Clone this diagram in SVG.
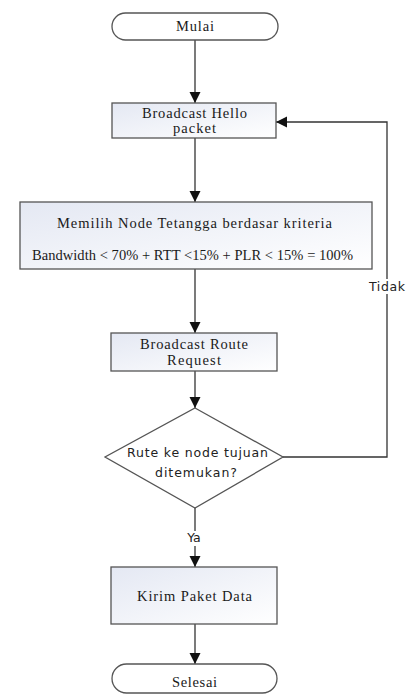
<svg xmlns="http://www.w3.org/2000/svg" width="408" height="699" viewBox="0 0 408 699">
<style>
.term{fill:#ffffff;stroke:#555;stroke-width:1.3}
.box{fill:url(#g);stroke:#555;stroke-width:1.3}
.dia{fill:#ffffff;stroke:#555;stroke-width:1.3}
.t{font-family:"Liberation Serif","Times New Roman",serif;font-size:14.5px;fill:#1a1a1a;text-anchor:middle}
.s{font-family:"DejaVu Sans",Verdana,sans-serif;font-size:12.5px;fill:#222;text-anchor:middle}
.c{fill:none;stroke:#333;stroke-width:1.3}
</style>
<defs>
<linearGradient id="g" x1="0" y1="0" x2="1" y2="1">
<stop offset="0" stop-color="#e4e8f3"/>
<stop offset="1" stop-color="#ffffff"/>
</linearGradient>
<marker id="a" markerUnits="userSpaceOnUse" markerWidth="12" markerHeight="12" viewBox="0 0 12 12" refX="11" refY="6" orient="auto">
<path d="M0,0.5 L11,6 L0,11.5 Z" fill="#111"/>
</marker>
</defs>
<rect width="408" height="699" fill="#ffffff"/>
<g id="connectors">
<path class="c" d="M195,40 V103" marker-end="url(#a)"/>
<path class="c" d="M195,138 V202" marker-end="url(#a)"/>
<path class="c" d="M195,269 V333" marker-end="url(#a)"/>
<path class="c" d="M195,371 V408" marker-end="url(#a)"/>
<path class="c" d="M283,457 H387 V122 H276" marker-end="url(#a)"/>
<path class="c" d="M195,508 V567" marker-end="url(#a)"/>
<path class="c" d="M195,624 V664" marker-end="url(#a)"/>
<rect x="368" y="279" width="38" height="15" fill="#ffffff"/>
<text class="s" x="387" y="291" textLength="36">Tidak</text>
<rect x="184" y="531" width="22" height="15" fill="#ffffff"/>
<text class="s" x="194" y="542">Ya</text>
</g>
<g id="mulai">
<rect class="term" x="112" y="13" width="166" height="27" rx="13.5"/>
<text class="t" x="195" y="31" textLength="38">Mulai</text>
</g>
<g id="hello">
<rect class="box" x="112" y="103" width="164" height="35"/>
<text class="t" x="194.5" y="117.5" textLength="105">Broadcast Hello</text>
<text class="t" x="194.5" y="132.5" textLength="43">packet</text>
</g>
<g id="memilih">
<rect class="box" x="20" y="202" width="352" height="67"/>
<text class="t" x="194.5" y="227.5" textLength="275">Memilih Node Tetangga berdasar kriteria</text>
<text class="t" x="192.5" y="259.5" textLength="321">Bandwidth &lt; 70% + RTT &lt;15% + PLR &lt; 15% = 100%</text>
</g>
<g id="brr">
<rect class="box" x="111" y="333" width="166" height="38"/>
<text class="t" x="194" y="348.5" textLength="108">Broadcast Route</text>
<text class="t" x="194" y="364.5" textLength="54">Request</text>
</g>
<g id="rute">
<polygon class="dia" points="195,408 283,457 195,508 105,457"/>
<text class="s" x="197.5" y="456.5" textLength="141">Rute ke node tujuan</text>
<text class="s" x="196" y="476.5" textLength="82">ditemukan?</text>
</g>
<g id="kirim">
<rect class="box" x="111" y="567" width="166" height="57"/>
<text class="t" x="194.5" y="600.5" textLength="115">Kirim  Paket Data</text>
</g>
<g id="selesai">
<rect class="term" x="112" y="664" width="165" height="29" rx="14.5"/>
<text class="t" x="194.5" y="686.5" textLength="45">Selesai</text>
</g>
</svg>
